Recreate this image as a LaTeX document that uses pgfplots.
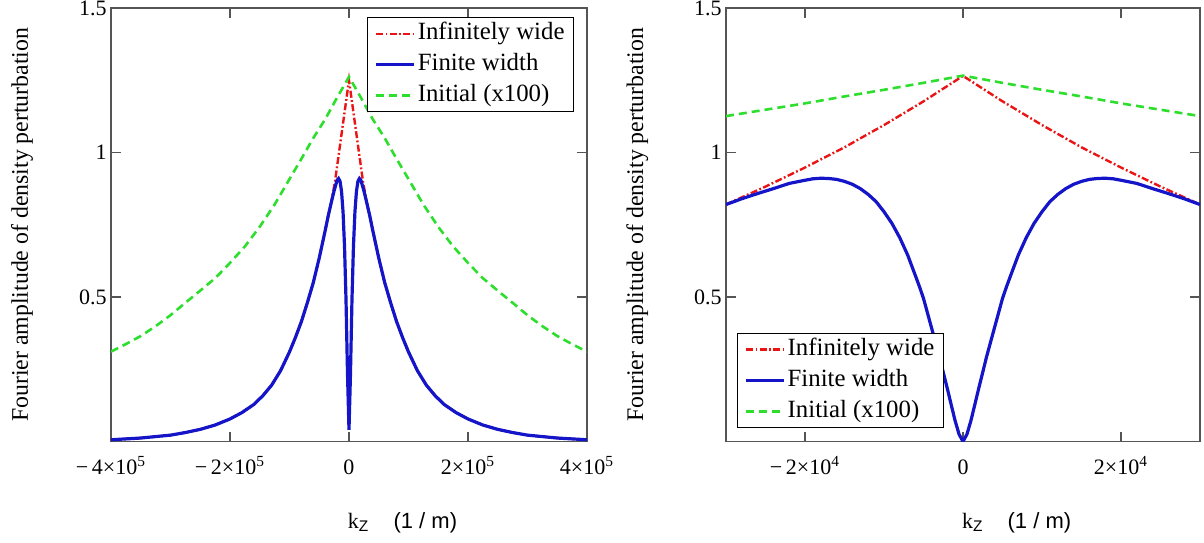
\documentclass[border=0pt]{standalone}
\usepackage{fontspec}
\setmainfont{Liberation Serif}
\newfontfamily\arialfont{Liberation Sans}
\usepackage{pgfplots}
\usepackage{pgfplotstable}
\pgfplotsset{compat=1.18}

\definecolor{curvered}{RGB}{235,20,20}
\definecolor{curveblue}{RGB}{20,20,200}
\definecolor{curvegreen}{RGB}{45,222,45}
\definecolor{axisgray}{RGB}{85,85,85}

% ---- wide view, k_z in +-4e5 ----
\pgfplotstableread{
k y
-400000 0.006
-350000 0.012
-300000 0.022
-275000 0.031
-250000 0.042
-225000 0.057
-200000 0.078
-180000 0.100
-160000 0.128
-145000 0.158
-130000 0.195
-115000 0.245
-100000 0.310
-90000 0.360
-80000 0.415
-70000 0.480
-60000 0.550
-50000 0.635
-40000 0.730
-35000 0.780
-30000 0.825
-25000 0.868
-20000 0.904
-17500 0.910
-15000 0.900
-12500 0.865
-10000 0.795
-7500 0.675
-5000 0.490
-2500 0.235
0 0.040
2500 0.235
5000 0.490
7500 0.675
10000 0.795
12500 0.865
15000 0.900
17500 0.910
20000 0.904
25000 0.868
30000 0.825
35000 0.780
40000 0.730
50000 0.635
60000 0.550
70000 0.480
80000 0.415
90000 0.360
100000 0.310
115000 0.245
130000 0.195
145000 0.158
160000 0.128
180000 0.100
200000 0.078
225000 0.057
250000 0.042
275000 0.031
300000 0.022
350000 0.012
400000 0.006
}\wideblue

\pgfplotstableread{
k y
-400000 0.006
-350000 0.012
-300000 0.022
-275000 0.031
-250000 0.042
-225000 0.057
-200000 0.078
-180000 0.100
-160000 0.128
-145000 0.158
-130000 0.195
-115000 0.245
-100000 0.310
-90000 0.360
-80000 0.415
-70000 0.480
-60000 0.550
-50000 0.635
-40000 0.730
-35000 0.780
-30000 0.825
-23500 0.900
0 1.250
23500 0.900
30000 0.825
35000 0.780
40000 0.730
50000 0.635
60000 0.550
70000 0.480
80000 0.415
90000 0.360
100000 0.310
115000 0.245
130000 0.195
145000 0.158
160000 0.128
180000 0.100
200000 0.078
225000 0.057
250000 0.042
275000 0.031
300000 0.022
350000 0.012
400000 0.006
}\widered

\pgfplotstableread{
k y
-400000 0.311
-375000 0.337
-350000 0.365
-325000 0.399
-300000 0.437
-275000 0.480
-250000 0.522
-225000 0.565
-200000 0.618
-175000 0.675
-150000 0.743
-125000 0.820
-100000 0.908
-80000 0.978
-60000 1.050
-40000 1.115
-20000 1.190
0 1.262
20000 1.190
40000 1.115
60000 1.050
80000 0.978
100000 0.908
125000 0.820
150000 0.743
175000 0.675
200000 0.618
225000 0.565
250000 0.522
275000 0.480
300000 0.437
325000 0.399
350000 0.365
375000 0.337
400000 0.311
}\widegreen

% ---- close-up, k_z in +-3e4 ----
\pgfplotstableread{
k y
-30000 0.820
-28000 0.840
-26000 0.858
-24000 0.875
-22000 0.893
-20000 0.904
-19000 0.909
-18000 0.911
-17000 0.910
-16000 0.907
-15000 0.900
-14000 0.890
-13000 0.875
-12000 0.855
-11000 0.830
-10000 0.795
-9000 0.755
-8000 0.705
-7000 0.645
-6000 0.572
-5500 0.535
-5000 0.495
-4000 0.395
-3500 0.345
-3000 0.295
-2500 0.240
-2000 0.185
-1500 0.128
-1000 0.072
-500 0.025
0 0.000
500 0.025
1000 0.072
1500 0.128
2000 0.185
2500 0.240
3000 0.295
3500 0.345
4000 0.395
5000 0.495
5500 0.535
6000 0.572
7000 0.645
8000 0.705
9000 0.755
10000 0.795
11000 0.830
12000 0.855
13000 0.875
14000 0.890
15000 0.900
16000 0.907
17000 0.910
18000 0.911
19000 0.909
20000 0.904
22000 0.893
24000 0.875
26000 0.858
28000 0.840
30000 0.820
}\zoomblue

\pgfplotstableread{
k y
-30000 0.820
-25000 0.882
-20000 0.948
-15000 1.018
-10000 1.095
-5000 1.177
0 1.265
5000 1.177
10000 1.095
15000 1.018
20000 0.948
25000 0.882
30000 0.820
}\zoomred

\pgfplotstableread{
k y
-30000 1.126
-25000 1.148
-20000 1.170
-15000 1.194
-10000 1.217
-5000 1.241
0 1.266
5000 1.241
10000 1.217
15000 1.194
20000 1.170
25000 1.148
30000 1.126
}\zoomgreen

\pgfplotsset{
  kzpanel/.style={
    scale only axis,
    anchor=south west,
    width=238pt, height=216.75pt,
    ymin=0, ymax=1.5,
    ytick={0.5,1,1.5},
    yticklabels={0.5,1,1.5},
    scaled x ticks=false,
    tick align=inside,
    major tick length=5pt,
    axis line style={draw=axisgray, line width=0.7pt},
    every tick/.style={draw=axisgray, line width=0.7pt},
    tick label style={font=\fontsize{11}{13}\selectfont},
    xticklabel style={anchor=base, yshift=-16.5pt},
    yticklabel style={xshift=1.3pt},
    ylabel={Fourier amplitude of density perturbation},
    ylabel style={at={(axis description cs:-0.187,0.5)}, anchor=center,
      font=\fontsize{11.9}{14}\selectfont},
    xlabel={k\textsubscript{\arialfont Z}\hspace{1.1em}{\arialfont (1 / m)}},
    xlabel style={at={(axis description cs:0.483,-0.2)}, anchor=base west,
      font=\fontsize{11}{13}\selectfont},
    legend cell align=left,
    legend image code/.code={\draw[#1] (0pt,0pt) -- (19pt,0pt);},
    legend style={draw=black, line width=0.6pt, fill=white,
      font=\fontsize{12.4}{14}\selectfont,
      inner xsep=3.5pt, inner ysep=0.5pt, row sep=0.5pt,
      nodes={inner sep=1pt, text height=9.5pt, text depth=3.5pt}},
  },
  infwide/.style={curvered, line width=1.2pt, dash pattern=on 3.5pt off 1.2pt on 0.9pt off 1.2pt},
  finwidth/.style={curveblue, line width=1.6pt},
  initial/.style={curvegreen, line width=1.3pt, dash pattern=on 4pt off 2.5pt},
}

\begin{document}
\begin{tikzpicture}
\useasboundingbox (0,0) rectangle (602pt,271pt);

\begin{axis}[kzpanel,
  at={(55.5pt,50.25pt)},
  xmin=-400000, xmax=400000,
  xtick={-400000,-200000,0,200000,400000},
  xticklabels={{−\,4×10\textsuperscript{5}},{−\,2×10\textsuperscript{5}},0,{2×10\textsuperscript{5}},{4×10\textsuperscript{5}}},
  legend style={at={(0.973,0.979)}, anchor=north east},
]
\addplot[infwide] table[x=k, y=y] {\widered};
\addlegendentry{Infinitely wide}
\addplot[finwidth] table[x=k, y=y] {\wideblue};
\addlegendentry{Finite width}
\addplot[initial] table[x=k, y=y] {\widegreen};
\addlegendentry{Initial (x100)}
\end{axis}

\begin{axis}[kzpanel,
  at={(363pt,50.25pt)},
  width=237pt,
  xmin=-30000, xmax=30000,
  xtick={-20000,0,20000},
  xticklabels={{−\,2×10\textsuperscript{4}},0,{2×10\textsuperscript{4}}},
  legend style={at={(0.023,0.031)}, anchor=south west},
]
\addplot[infwide] table[x=k, y=y] {\zoomred};
\addlegendentry{Infinitely wide}
\addplot[finwidth] table[x=k, y=y] {\zoomblue};
\addlegendentry{Finite width}
\addplot[initial] table[x=k, y=y] {\zoomgreen};
\addlegendentry{Initial (x100)}
\end{axis}
\end{tikzpicture}
\end{document}
